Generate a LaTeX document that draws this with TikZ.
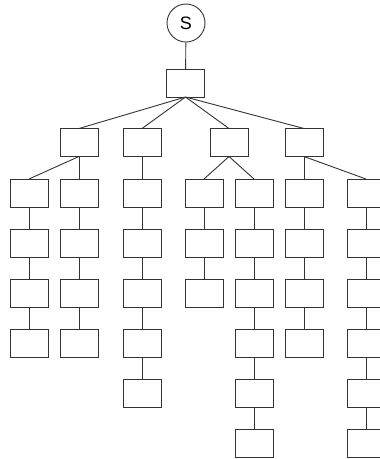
\documentclass[tikz,border=0pt]{standalone}
\usepackage{fontspec}
\setmainfont{Liberation Sans}
\begin{document}
\begin{tikzpicture}[x=1pt,y=-1pt,
  box/.style={draw=black!80,line width=0.9pt,minimum width=38pt,minimum height=28pt,inner sep=0pt,outer sep=0pt},
  start/.style={draw=black!80,line width=0.9pt,circle,minimum size=38pt,inner sep=0pt,font=\fontsize{18}{20}\selectfont},
  link/.style={draw=black!80,line width=0.9pt}]
\useasboundingbox (0,0) rectangle (380,459);
\node[start] (s) at (186,23) {S};
\node[box] (r) at (185.5,83) {};
\draw[link] (s) -- (r);
% level 1
\foreach \n/\x in {a/79,b/142,c/229,d/304}{
  \node[box] (\n) at (\x,142.5) {};
  \draw[link] (r.south) -- (\n.north);
}
% chains: name/x/parent/count
\foreach \n/\x/\p/\k in {p/29/a/4,q/79/a/4,u/142/b/5,v/204/c/3,w/254/c/6,y/304/d/4,z/366/d/6}{
  \node[box] (\n1) at (\x,193) {};
  \draw[link] (\p.south) -- (\n1.north);
  \foreach \i in {2,...,\k}{
    \pgfmathtruncatemacro{\j}{\i-1}
    \node[box] (\n\i) at (\x,193+50*\j) {};
    \draw[link] (\n\j) -- (\n\i);
  }
}
\end{tikzpicture}
\end{document}
